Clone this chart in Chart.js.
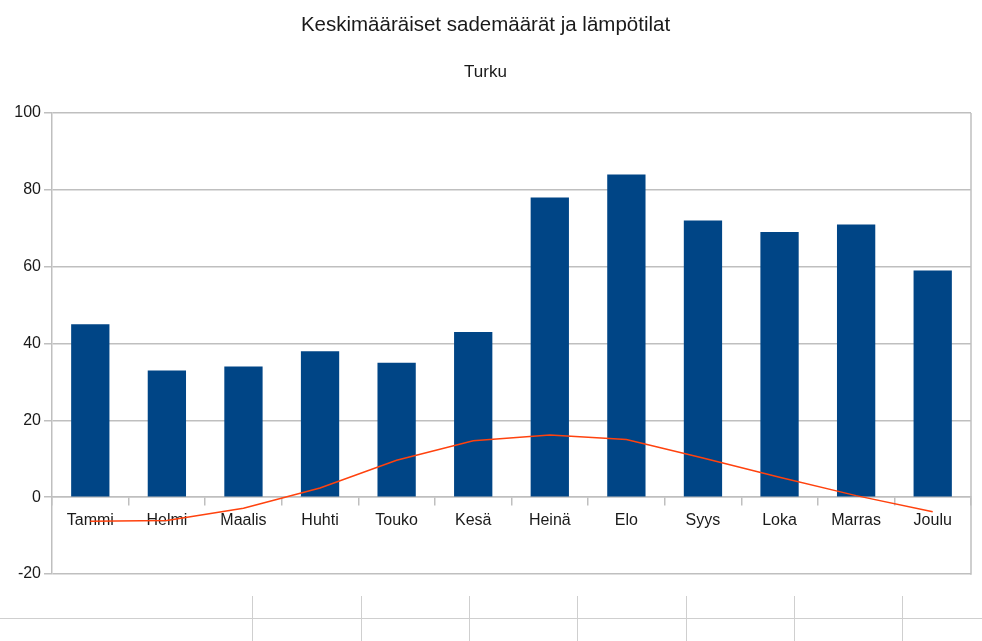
<!DOCTYPE html>
<html>
<head>
<meta charset="utf-8">
<script src="https://cdn.jsdelivr.net/npm/chart.js@4/dist/chart.umd.min.js"></script>
<style>
html,body{margin:0;padding:0;background:#fff;}
canvas{display:block;}
</style>
</head>
<body>
<canvas id="c" width="982" height="641"></canvas>
<script>
const months = ['Tammi','Helmi','Maalis','Huhti','Touko','Kesä','Heinä','Elo','Syys','Loka','Marras','Joulu'];
const precipitation = [45, 33, 34, 38, 35, 43, 78, 84, 72, 69, 71, 59];
const temperature = [-6.3, -6.1, -2.9, 2.4, 9.6, 14.7, 16.2, 15.0, 10.2, 5.2, 0.4, -3.8];
const yTicks = [-20, 0, 20, 40, 60, 80, 100];

const gridColor = '#bfbfbf';
const textColor = '#1a1a1a';
const fontFamily = '"Liberation Sans", Arial, sans-serif';

const decorations = {
  id: 'decorations',
  beforeDatasetsDraw(chart) {
    const {ctx, chartArea} = chart;
    ctx.save();
    ctx.strokeStyle = gridColor;
    ctx.lineWidth = 1.5;
    ctx.beginPath();
    const x = Math.round(chartArea.right);
    ctx.moveTo(x, chartArea.top);
    ctx.lineTo(x, chartArea.bottom + 0.75);
    ctx.stroke();
    ctx.restore();
  },
  afterDraw(chart) {
    const {ctx} = chart;
    ctx.save();
    ctx.strokeStyle = '#cfcfcf';
    ctx.lineWidth = 1;
    ctx.beginPath();
    ctx.moveTo(0, 618.5);
    ctx.lineTo(982, 618.5);
    [252, 361, 469, 577, 686, 794, 902].forEach(v => {
      ctx.moveTo(v + 0.5, 596);
      ctx.lineTo(v + 0.5, 641);
    });
    ctx.stroke();
    ctx.restore();
  }
};

new Chart(document.getElementById('c'), {
  data: {
    labels: months,
    datasets: [
      {
        type: 'line',
        label: 'Lämpötila',
        data: temperature,
        borderColor: '#ff420e',
        borderWidth: 1.5,
        pointRadius: 0,
        tension: 0,
        fill: false,
        order: 0
      },
      {
        type: 'bar',
        label: 'Sademäärä',
        data: precipitation,
        backgroundColor: '#004586',
        borderWidth: 0,
        categoryPercentage: 1,
        barPercentage: 0.5,
        order: 1
      }
    ]
  },
  options: {
    responsive: false,
    animation: false,
    layout: { padding: { left: 0, right: 11, bottom: 67, top: 0 } },
    plugins: {
      legend: { display: false },
      tooltip: { enabled: false },
      title: {
        display: true,
        text: 'Keskimääräiset sademäärät ja lämpötilat',
        color: textColor,
        font: { family: fontFamily, size: 20.5, weight: 'normal' },
        padding: { top: 13, bottom: 24.2 }
      },
      subtitle: {
        display: true,
        text: 'Turku',
        color: textColor,
        font: { family: fontFamily, size: 17, weight: 'normal' },
        padding: { top: 0, bottom: 30.8 }
      }
    },
    scales: {
      x: {
        type: 'category',
        position: { y: 0 },
        offset: true,
        grid: {
          offset: true,
          drawOnChartArea: false,
          drawTicks: true,
          tickLength: 8,
          color: gridColor,
          lineWidth: 1.5
        },
        border: { display: true, color: gridColor, width: 1.5 },
        ticks: {
          color: textColor,
          font: { family: fontFamily, size: 16 },
          padding: 6,
          maxRotation: 0,
          autoSkip: false
        }
      },
      y: {
        type: 'linear',
        min: -20,
        max: 100,
        afterBuildTicks(scale) {
          scale.ticks = yTicks.map(v => ({ value: v }));
        },
        afterFit(scale) { scale.width = 52; },
        grid: { color: gridColor, tickLength: 8, lineWidth: 1.5 },
        border: { display: true, color: gridColor, width: 1.5 },
        ticks: {
          color: textColor,
          font: { family: fontFamily, size: 16 },
          padding: 3
        }
      }
    }
  },
  plugins: [decorations]
});
</script>
</body>
</html>
